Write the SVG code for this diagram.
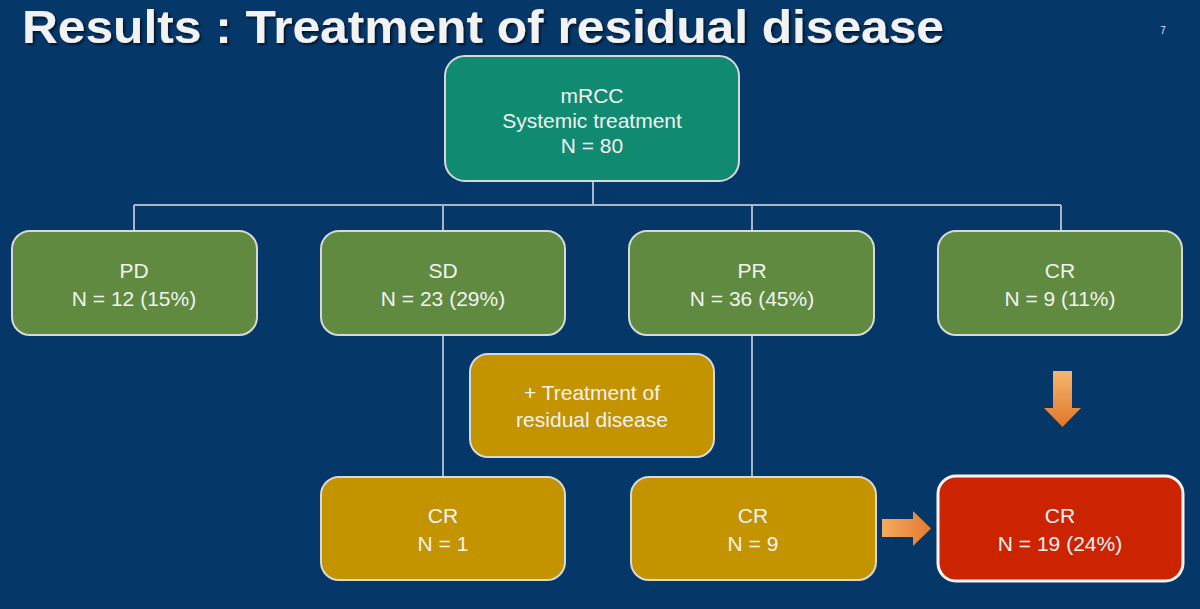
<svg xmlns="http://www.w3.org/2000/svg" width="1200" height="609" viewBox="0 0 1200 609">
<defs>
<linearGradient id="org" x1="0" y1="0" x2="0" y2="1">
<stop offset="0" stop-color="#f7b56e"/>
<stop offset="1" stop-color="#e0772c"/>
</linearGradient>
<linearGradient id="orgh" x1="0" y1="0" x2="1" y2="0">
<stop offset="0" stop-color="#f5ab5e"/>
<stop offset="1" stop-color="#e37b30"/>
</linearGradient>
<filter id="sh" x="-5%" y="-20%" width="110%" height="150%">
<feDropShadow dx="2" dy="2" stdDeviation="1" flood-color="#000" flood-opacity="0.6"/>
</filter>
</defs>
<style>
.box{stroke:#d6d9d6;stroke-width:2}
.teal{fill:#108a70}
.green{fill:#5f8a3f}
.gold{fill:#c39300}
.red{fill:#cc2400;stroke:#f4f4f4;stroke-width:3}
.t{font-family:"Liberation Sans",Arial,sans-serif;font-size:21px;fill:#f2f2f2;text-anchor:middle}
.con{stroke:#a9b5c6;stroke-width:2;fill:none}
</style>
<rect width="1200" height="609" fill="#063769"/>
<text x="22" y="43" font-family="Liberation Sans,Arial,sans-serif" font-weight="bold" font-size="46" fill="#f2f2f2" textLength="922" lengthAdjust="spacingAndGlyphs" filter="url(#sh)">Results : Treatment of residual disease</text>
<text x="1163" y="34" font-family="Liberation Sans,Arial,sans-serif" font-size="10" fill="#e0e0e0" text-anchor="middle">7</text>
<g id="connectors">
<path class="con" d="M593 181V205M134 205H1061M134 205V231M443 205V231M752 205V231M1061 205V231"/>
<path class="con" d="M443 335V477M752 335V477"/>
<path fill="url(#org)" d="M1053 371H1072V408H1081L1062.5 427L1044 408H1053Z"/>
<path fill="url(#orgh)" d="M882 519H913V511L931 528.5L913 546V537H882Z"/>
</g>
<g id="n-mrcc"><rect class="box teal" x="445" y="56" width="294" height="125" rx="20"/>
<text class="t" x="592" y="103">mRCC</text><text class="t" x="592" y="128">Systemic treatment</text><text class="t" x="592" y="153">N = 80</text></g>
<g id="n-pd"><rect class="box green" x="12" y="231" width="245" height="104" rx="18"/>
<text class="t" x="134" y="278">PD</text><text class="t" x="134" y="306">N = 12 (15%)</text></g>
<g id="n-sd"><rect class="box green" x="321" y="231" width="244" height="104" rx="18"/>
<text class="t" x="443" y="278">SD</text><text class="t" x="443" y="306">N = 23 (29%)</text></g>
<g id="n-pr"><rect class="box green" x="629" y="231" width="245" height="104" rx="18"/>
<text class="t" x="752" y="278">PR</text><text class="t" x="752" y="306">N = 36 (45%)</text></g>
<g id="n-cr"><rect class="box green" x="938" y="231" width="244" height="104" rx="18"/>
<text class="t" x="1060" y="278">CR</text><text class="t" x="1060" y="306">N = 9 (11%)</text></g>
<g id="n-treat"><rect class="box gold" x="470" y="354" width="244" height="103" rx="18"/>
<text class="t" x="592" y="400">+ Treatment of</text><text class="t" x="592" y="427">residual disease</text></g>
<g id="n-cr1"><rect class="box gold" x="321" y="477" width="244" height="103" rx="18"/>
<text class="t" x="443" y="523">CR</text><text class="t" x="443" y="551">N = 1</text></g>
<g id="n-cr9"><rect class="box gold" x="631" y="477" width="245" height="103" rx="18"/>
<text class="t" x="753" y="523">CR</text><text class="t" x="753" y="551">N = 9</text></g>
<g id="n-cr19"><rect class="red" x="938" y="476" width="245" height="105" rx="18"/>
<text class="t" x="1060" y="523">CR</text><text class="t" x="1060" y="551">N = 19 (24%)</text></g>
</svg>
